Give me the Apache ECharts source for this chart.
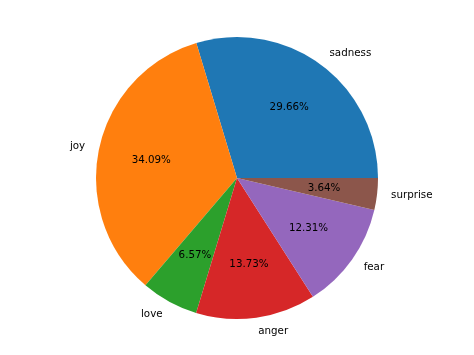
<!DOCTYPE html>
<html><head><meta charset="utf-8">
<script src="https://cdn.jsdelivr.net/npm/echarts@6/dist/echarts.min.js"></script>
<style>html,body{margin:0;padding:0;background:#fff}#c{width:474px;height:355px}</style>
</head><body><div id="c"></div>
<script>
const categories = ['sadness','joy','love','anger','fear','surprise'];
const values = [29.66, 34.09, 6.57, 13.73, 12.31, 3.64];
const colors = ['#1f77b4','#ff7f0e','#2ca02c','#d62728','#9467bd','#8c564b'];

const chart = echarts.init(document.getElementById('c'), null, {renderer:'canvas'});
const R = 141;
const font = {fontFamily:'DejaVu Sans', fontSize:10.3, color:'#000'};
const data = categories.map((n,i)=>({name:n, value:values[i], itemStyle:{color:colors[i]}}));
const ghost = categories.map((n,i)=>({name:n, value:values[i], itemStyle:{color:'rgba(0,0,0,0)'}}));
chart.setOption({
  animation:false,
  series:[
    {type:'pie', center:[237,178], radius:[0,R], startAngle:0, clockwise:false,
     avoidLabelOverlap:false, silent:true, data:data,
     label:{show:false}, labelLine:{show:false}},
    {type:'pie', center:[237,178], radius:[0,R*1.2], startAngle:0, clockwise:false,
     avoidLabelOverlap:false, silent:true, data:ghost, z:5,
     label:{show:true, position:'inside', formatter:p=>p.value.toFixed(2)+'%', ...font},
     labelLine:{show:false}},
    {type:'pie', center:[237,178], radius:[0,R], startAngle:0, clockwise:false,
     avoidLabelOverlap:false, silent:true, data:ghost, z:5,
     label:{show:true, position:'outside', formatter:'{b}', distanceToLabelLine:0, ...font},
     labelLine:{show:false, length:R*0.1, length2:0}}
  ]
});
</script></body></html>
